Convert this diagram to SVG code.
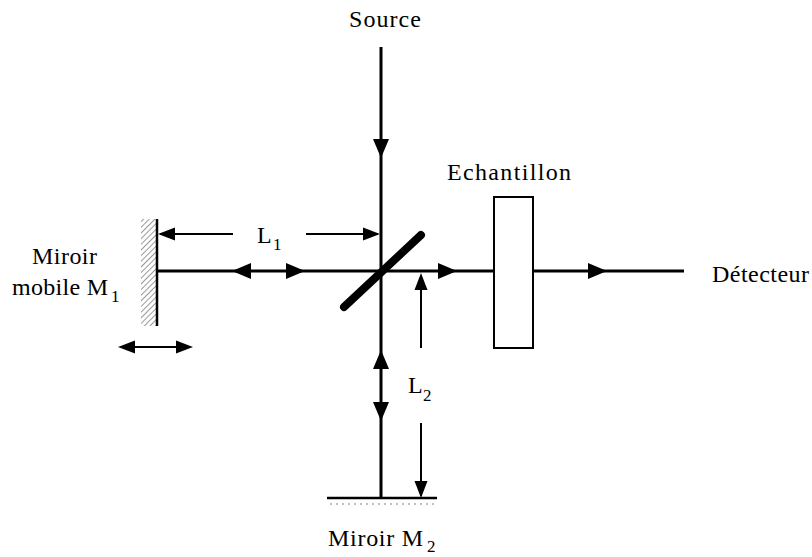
<svg xmlns="http://www.w3.org/2000/svg" width="812" height="557" viewBox="0 0 812 557">
<style>
.t{font-family:'Liberation Serif','DejaVu Serif','Times New Roman',Times,serif;font-size:24px;fill:#000}
.sub{font-family:'Liberation Serif','DejaVu Serif','Times New Roman',Times,serif;font-size:17px;fill:#000}
.beam{stroke:#000;stroke-width:3;fill:none}
.thin{stroke:#000;stroke-width:2;fill:none}
.ah{fill:#000}
</style>
<defs>
<path id="big" d="M0,0 L-19,-8 L-19,8 Z"/>
<path id="small" d="M0,0 L-17,-6.5 L-17,6.5 Z"/>
<pattern id="hatch" width="4" height="4" patternUnits="userSpaceOnUse" patternTransform="rotate(45)">
<line x1="0" y1="0" x2="0" y2="4" stroke="#555" stroke-width="1.2"/>
</pattern>
</defs>
<g id="connectors">
<line class="beam" x1="381" y1="47" x2="381" y2="499"/>
<line class="beam" x1="157" y1="271" x2="684" y2="271"/>
<use href="#big" class="ah" transform="translate(381,158) rotate(90)"/>
<use href="#big" class="ah" transform="translate(232,271) rotate(180)"/>
<use href="#big" class="ah" transform="translate(305,271)"/>
<use href="#big" class="ah" transform="translate(457,271)"/>
<use href="#big" class="ah" transform="translate(607,271)"/>
<use href="#big" class="ah" transform="translate(381,350) rotate(-90)"/>
<use href="#big" class="ah" transform="translate(381,421) rotate(90)"/>
</g>
<g id="L1">
<line class="thin" x1="160" y1="234" x2="233" y2="234"/>
<use href="#small" class="ah" transform="translate(158,234) rotate(180)"/>
<line class="thin" x1="306" y1="234" x2="378" y2="234"/>
<use href="#small" class="ah" transform="translate(380,234)"/>
<text class="t" x="257" y="243">L</text>
<text class="sub" x="273" y="250">1</text>
</g>
<g id="L2">
<line class="thin" x1="421" y1="276" x2="421" y2="348"/>
<use href="#small" class="ah" transform="translate(421,273) rotate(-90)"/>
<line class="thin" x1="421" y1="423" x2="421" y2="496"/>
<use href="#small" class="ah" transform="translate(421,498) rotate(90)"/>
<text class="t" x="408" y="393">L</text>
<text class="sub" x="423" y="401">2</text>
</g>
<g id="source">
<text class="t" x="349" y="27" textLength="72">Source</text>
</g>
<g id="splitter">
<line x1="344" y1="307" x2="421" y2="235" stroke="#000" stroke-width="8" stroke-linecap="round"/>
</g>
<g id="mirrorM1">
<rect x="141" y="219" width="15" height="107" fill="url(#hatch)"/>
<line x1="157" y1="219" x2="157" y2="326" stroke="#000" stroke-width="2.5"/>
<text class="t" x="32" y="264" textLength="65">Miroir</text>
<text class="t" x="12" y="295" textLength="96">mobile M</text>
<text class="sub" x="111" y="302">1</text>
<line class="thin" x1="125" y1="347" x2="186" y2="347"/>
<use href="#small" class="ah" transform="translate(118,347) rotate(180)"/>
<use href="#small" class="ah" transform="translate(193,347)"/>
</g>
<g id="mirrorM2">
<line x1="327" y1="498" x2="437" y2="498" stroke="#000" stroke-width="2.5"/>
<line x1="330" y1="504" x2="436" y2="504" stroke="#aaa" stroke-width="1.5" stroke-dasharray="2 4"/>
<text class="t" x="328" y="546" textLength="95">Miroir M</text>
<text class="sub" x="427" y="552">2</text>
</g>
<g id="sample">
<rect x="494" y="197" width="39" height="151" fill="#fff" stroke="#000" stroke-width="2"/>
<text class="t" x="447" y="180" textLength="124">Echantillon</text>
</g>
<g id="detector">
<text class="t" x="712" y="282" textLength="97">Détecteur</text>
</g>
</svg>
